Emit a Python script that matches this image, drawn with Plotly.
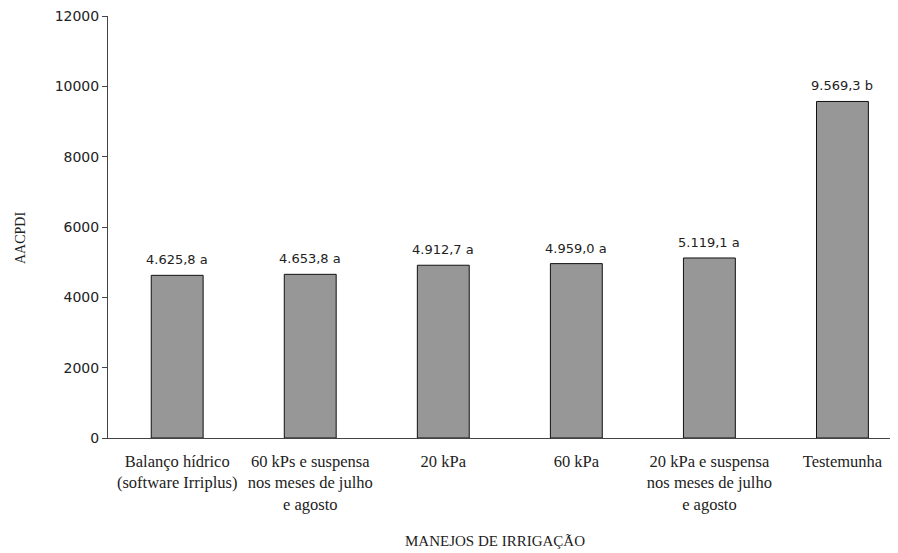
import plotly.graph_objects as go

categories = [
    "Balanço hídrico<br>(software Irriplus)",
    "60 kPs e suspensa<br>nos meses de julho<br>e agosto",
    "20 kPa",
    "60 kPa",
    "20 kPa e suspensa<br>nos meses de julho<br>e agosto",
    "Testemunha",
]
values = [4625.8, 4653.8, 4912.7, 4959.0, 5119.1, 9569.3]
value_labels = ["4.625,8 a", "4.653,8 a", "4.912,7 a", "4.959,0 a", "5.119,1 a", "9.569,3 b"]
y_ticks = [0, 2000, 4000, 6000, 8000, 10000, 12000]

SERIF = "Liberation Serif, Times New Roman, serif"
SANS = "DejaVu Sans, Tahoma, sans-serif"

fig = go.Figure()
fig.add_trace(go.Bar(
    x=categories,
    y=values,
    width=0.39,
    marker=dict(color="#979797", line=dict(color="#111111", width=1)),
    hoverinfo="x+y",
))

for c, v, t in zip(categories, values, value_labels):
    fig.add_annotation(
        x=c, y=v, text=t, showarrow=False, yanchor="bottom", yshift=6,
        font=dict(family=SANS, size=13, color="#222222"),
    )

fig.add_annotation(
    xref="paper", yref="paper", x=0, y=0.5, xshift=-88, yshift=-11, text="AACPDI",
    textangle=-90, showarrow=False, xanchor="center", yanchor="middle",
    font=dict(family=SERIF, size=14, color="#222222"),
)
fig.add_annotation(
    xref="paper", yref="paper", x=0.49, y=0, yshift=-103, text="MANEJOS DE IRRIGAÇÃO",
    showarrow=False, xanchor="center", yanchor="middle",
    font=dict(family=SERIF, size=15, color="#222222"),
)

fig.update_layout(
    width=890, height=545,
    margin=dict(l=100, r=1, t=8, b=115),
    paper_bgcolor="white", plot_bgcolor="white",
    showlegend=False,
    bargap=0.6,
)
fig.update_xaxes(
    range=[-0.52, 5.41],
    showline=True, linecolor="#444444", linewidth=1,
    ticks="", showgrid=False, zeroline=False,
    ticklabelstandoff=8,
    tickfont=dict(family=SERIF, size=16.5, color="#222222"),
    tickangle=0,
)
fig.update_yaxes(
    range=[0, 12000], tickvals=y_ticks, ticktext=[str(v) for v in y_ticks],
    showline=True, linecolor="#444444", linewidth=1,
    ticks="outside", ticklen=5, tickcolor="#444444",
    showgrid=False, zeroline=False,
    ticklabeloverflow="allow",
    tickfont=dict(family=SANS, size=14, color="#222222"),
)

fig.write_html("out.html")
